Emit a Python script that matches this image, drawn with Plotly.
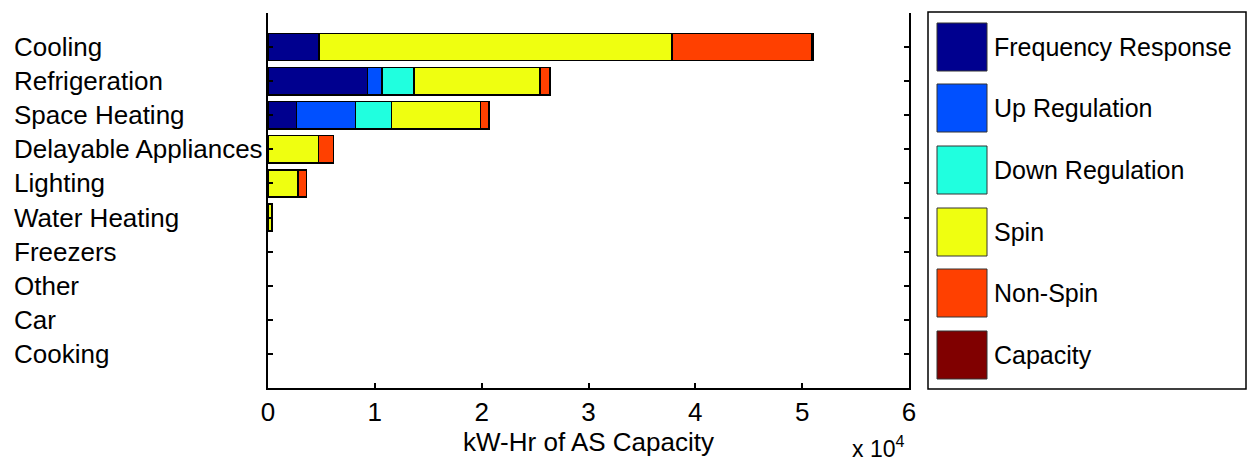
import plotly.graph_objects as go

categories = ["Cooling", "Refrigeration", "Space Heating", "Delayable Appliances",
              "Lighting", "Water Heating", "Freezers", "Other", "Car", "Cooking"]
series_names = ["Frequency Response", "Up Regulation", "Down Regulation",
                "Spin", "Non-Spin", "Capacity"]
freq_response = [4780, 9330, 2650, 0, 0, 0, 0, 0, 0, 0]
up_regulation = [0, 1340, 5530, 0, 0, 0, 0, 0, 0, 0]
down_regulation = [0, 3000, 3400, 0, 0, 0, 0, 0, 0, 0]
spin = [33050, 11800, 8330, 4740, 2810, 350, 0, 0, 0, 0]
non_spin = [13070, 930, 750, 1380, 810, 30, 0, 0, 0, 0]
capacity = [100, 0, 60, 0, 0, 0, 0, 0, 0, 0]
x_tick_vals = [0, 10000, 20000, 30000, 40000, 50000, 60000]
x_tick_text = ["0", "1", "2", "3", "4", "5", "6"]

colors = ["#00008F", "#0050FF", "#20FFDF", "#EFFF10", "#FF4000", "#800000"]
series = [freq_response, up_regulation, down_regulation, spin, non_spin, capacity]

FONT = "Liberation Sans, Arial, sans-serif"
y_pos = list(range(1, len(categories) + 1))

fig = go.Figure()
for name, vals, col in zip(series_names, series, colors):
    fig.add_trace(go.Bar(
        y=y_pos, x=vals, name=name, orientation="h", width=0.8,
        marker=dict(color=col,
                    line=dict(color="black", width=[1.5 if v > 0 else 0 for v in vals])),
        showlegend=False,
    ))

W, H = 1248, 463
L, R, T, B = 268, 339, 13, 75
pw, ph = W - L - R, H - T - B

def px(xp):
    return (xp - L) / pw

def py(yp):
    return (H - B - yp) / ph

annotations = []
for i, c in enumerate(categories):
    annotations.append(dict(
        x=px(12), xref="paper", y=y_pos[i], yref="y", text=c, showarrow=False,
        xanchor="left", yanchor="middle", font=dict(family=FONT, size=26, color="black")))

annotations.append(dict(
    x=px(906), xref="paper", y=py(447), yref="paper", text="x 10<sup>4</sup>",
    showarrow=False, xanchor="right", yanchor="middle",
    font=dict(family=FONT, size=23, color="black")))

shapes = [dict(type="rect", xref="paper", yref="paper",
               x0=px(928), x1=px(1246), y0=py(389), y1=py(12),
               line=dict(color="black", width=1.5), fillcolor="white")]
legend_centers = [47, 108, 170, 232, 293, 355]
for name, col, cy in zip(series_names, colors, legend_centers):
    shapes.append(dict(type="rect", xref="paper", yref="paper",
                       x0=px(937), x1=px(987), y0=py(cy + 24), y1=py(cy - 24),
                       line=dict(color="#333333", width=1), fillcolor=col))
    annotations.append(dict(
        x=px(992), xref="paper", y=py(cy), yref="paper", text=name, showarrow=False,
        xanchor="left", yanchor="middle", font=dict(family=FONT, size=25, color="black")))

fig.update_layout(
    width=W, height=H, barmode="stack",
    margin=dict(l=L, r=R, t=T, b=B, pad=0),
    paper_bgcolor="white", plot_bgcolor="white",
    font=dict(family=FONT, size=26, color="black"),
    annotations=annotations, shapes=shapes, bargap=0.2,
    xaxis=dict(range=[0, 60000], tickvals=x_tick_vals, ticktext=x_tick_text,
               ticks="inside", ticklen=5, tickcolor="black", tickwidth=1.5,
               showline=True, linecolor="black", linewidth=2, mirror=False,
               showgrid=False, zeroline=False,
               tickfont=dict(family=FONT, size=26, color="black"),
               title=dict(text="kW-Hr of AS Capacity", standoff=2,
                          font=dict(family=FONT, size=26, color="black"))),
    yaxis=dict(range=[11, 0], tickvals=list(range(0, 12)), showticklabels=False,
               ticks="inside", ticklen=5, tickcolor="black", tickwidth=1.5,
               showline=True, linecolor="black", linewidth=2, mirror="ticks",
               showgrid=False, zeroline=False),
)

fig.write_html("out.html")
